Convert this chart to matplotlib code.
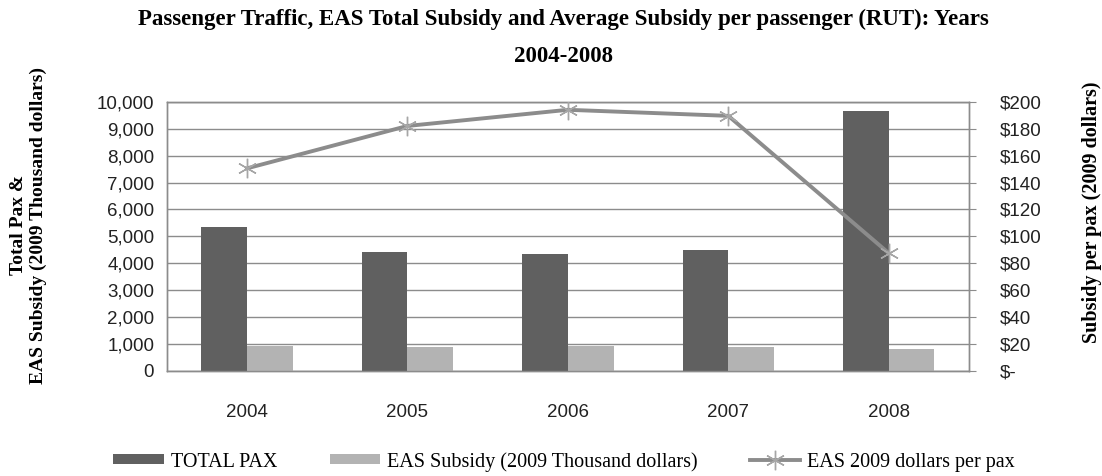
import matplotlib.pyplot as plt
from matplotlib.ticker import FuncFormatter, MultipleLocator
import numpy as np

years = ['2004', '2005', '2006', '2007', '2008']
total_pax = [5360, 4410, 4360, 4490, 9670]
eas_subsidy = [930, 880, 920, 880, 830]
dollars_per_pax = [150.5, 182, 194, 189.5, 87.5]

serif = 'Liberation Serif'
sans = 'Liberation Sans'

fig = plt.figure(figsize=(11.02, 4.76), dpi=100)
ax = fig.add_axes([0.1513, 0.2206, 0.728, 0.5657])
ax2 = ax.twinx()

x = np.arange(len(years))
w = 0.285
ax.bar(x - w / 2, total_pax, w, color='#606060', label='TOTAL PAX', zorder=3)
ax.bar(x + w / 2, eas_subsidy, w, color='#b3b3b3',
       label='EAS Subsidy (2009 Thousand dollars)', zorder=3)
ax2.plot(x, dollars_per_pax, color='#8c8c8c', lw=2.8, marker=(6, 2, 0),
         markersize=14, markeredgecolor='#a6a6a6', markeredgewidth=1.0,
         label='EAS 2009 dollars per pax', zorder=4)

ax.set_xlim(-0.5, 4.5)
ax.set_ylim(0, 10000)
ax2.set_ylim(0, 200)
ax.yaxis.set_major_locator(MultipleLocator(1000))
ax2.yaxis.set_major_locator(MultipleLocator(20))
ax.yaxis.set_major_formatter(FuncFormatter(lambda v, p: f'{int(v):,}'))
ax2.yaxis.set_major_formatter(FuncFormatter(lambda v, p: '$-' if v == 0 else f'${int(v)}'))

ax.set_xticks(x)
ax.set_xticklabels(years)
ax.grid(axis='y', color='#8c8c8c', lw=1.0, zorder=0)
ax.set_axisbelow(True)
for a in (ax, ax2):
    for s in a.spines.values():
        s.set_color('#8c8c8c')
        s.set_linewidth(1.0)
ax.tick_params(axis='both', length=0, labelsize=13.5, pad=9)
ax.tick_params(axis='x', pad=24)
ax2.tick_params(axis='y', length=5, color='#8c8c8c', labelsize=13.5, pad=17)
for lab in ax.get_xticklabels() + ax.get_yticklabels() + ax2.get_yticklabels():
    lab.set_fontfamily(sans)
    lab.set_color('#222222')

# two-line bold title
fig.text(0.511, 0.96, 'Passenger Traffic, EAS Total Subsidy and Average Subsidy per passenger (RUT): Years',
         ha='center', va='center', family=serif, fontweight='bold', fontsize=16.5)
fig.text(0.511, 0.882, '2004-2008', ha='center', va='center', family=serif,
         fontweight='bold', fontsize=16.5)

fig.text(0.026, 0.527, 'Total Pax &\nEAS Subsidy (2009 Thousand dollars)', rotation=90,
         ha='center', va='center', family=serif, fontweight='bold', fontsize=14,
         linespacing=1.25)
fig.text(0.991, 0.555, 'Subsidy per pax (2009 dollars)', rotation=90,
         ha='center', va='center', family=serif, fontweight='bold', fontsize=14.5)

h1, l1 = ax.get_legend_handles_labels()
h2, l2 = ax2.get_legend_handles_labels()
fig.legend(h1 + h2, l1 + l2, loc='center', bbox_to_anchor=(0.512, 0.03), ncol=3,
           frameon=False, prop={'family': serif, 'size': 14.5},
           handlelength=2.5, handleheight=0.4, handletextpad=0.35,
           columnspacing=2.6)

fig.savefig('out.png', dpi=100)
